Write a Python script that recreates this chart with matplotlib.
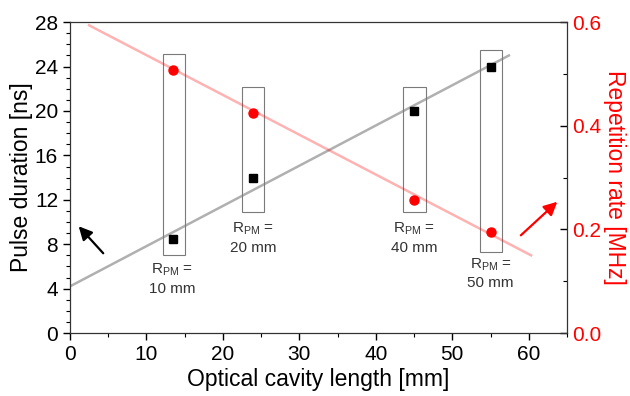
import matplotlib
matplotlib.use('Agg')
import matplotlib.pyplot as plt
from matplotlib.patches import Rectangle
from matplotlib.ticker import MultipleLocator

plt.rcParams['font.family'] = ['Liberation Sans', 'DejaVu Sans']

# data
cavity_len = [13.5, 24, 45, 55]
pulse_ns = [8.5, 14, 20, 24]
rep_mhz = [0.508, 0.425, 0.257, 0.195]
rpm_labels = ['10 mm', '20 mm', '40 mm', '50 mm']

# linear guides
pulse_fit_x = [0, 57.4]
pulse_fit_y = [4.2, 25.0]
rep_fit_x = [2.5, 60.3]
rep_fit_y = [0.594, 0.15]

# boxes round each pair (x0, x1, y0, y1) in pulse units
boxes = [(12.2, 15.0, 7.0, 25.1),
         (22.5, 25.4, 10.9, 22.2),
         (43.6, 46.5, 10.9, 22.2),
         (53.6, 56.5, 7.3, 25.5)]
label_pos = [(13.4, 6.4), (24.0, 10.1), (45.0, 10.1), (55.0, 6.9)]

fig = plt.figure(figsize=(6.3, 3.96), dpi=100)
ax = fig.add_axes([0.111, 0.159, 0.789, 0.785])
ax2 = ax.twinx()

ax.plot(pulse_fit_x, pulse_fit_y, color='#b0b0b0', lw=1.8, zorder=1)
ax2.plot(rep_fit_x, rep_fit_y, color='#ff0000', alpha=0.3, lw=1.8, zorder=1)

for (x0, x1, y0, y1) in boxes:
    ax.add_patch(Rectangle((x0, y0), x1 - x0, y1 - y0, fill=False,
                           edgecolor='#7a7a7a', lw=0.8, zorder=2))

ax.plot(cavity_len, pulse_ns, 's', color='black', ms=6, zorder=3)
ax2.plot(cavity_len, rep_mhz, 'o', color='#ff0000', ms=6.5, zorder=3)

for (lx, ly), lab in zip(label_pos, rpm_labels):
    ax.text(lx, ly, '$\\mathregular{R_{PM}}$ =\n' + lab, ha='center', va='top',
            fontsize=11, color='#333333', linespacing=1.3)

ax.annotate('', xy=(0.9, 9.8), xytext=(4.6, 7.0),
            arrowprops=dict(arrowstyle='-|>', color='black', lw=1.6, mutation_scale=20))
ax2.annotate('', xy=(64.0, 0.257), xytext=(58.7, 0.185),
             arrowprops=dict(arrowstyle='-|>', color='#ff0000', lw=1.6, mutation_scale=20))

ax.set_xlim(0, 65)
ax.set_ylim(0, 28)
ax2.set_ylim(0, 0.6)
ax.xaxis.set_major_locator(MultipleLocator(10))
ax.xaxis.set_minor_locator(MultipleLocator(5))
ax.yaxis.set_major_locator(MultipleLocator(4))
ax.yaxis.set_minor_locator(MultipleLocator(1))
ax2.yaxis.set_minor_locator(MultipleLocator(0.1))
ax2.set_yticks([0, 0.2, 0.4, 0.6])
ax2.set_yticklabels(['0.0', '0.2', '0.4', '0.6'])

ax.tick_params(axis='both', which='major', labelsize=15, length=5, width=1)
ax.tick_params(axis='both', which='minor', length=3, width=0.8)
ax2.tick_params(axis='y', which='major', direction='in', labelsize=15,
                labelcolor='#ff0000', length=5, width=1)
ax2.tick_params(axis='y', which='minor', direction='in', length=3, width=0.8)

ax.set_xlabel('Optical cavity length [mm]', fontsize=16.5, labelpad=3)
ax.set_ylabel('Pulse duration [ns]', fontsize=16.5, labelpad=1)
ax2.set_ylabel('Repetition rate [MHz]', fontsize=16.5, color='#ff0000',
               rotation=270, labelpad=18)

for sp in ax2.spines.values():
    sp.set_color('#333333')

fig.savefig('out.png', dpi=100)
